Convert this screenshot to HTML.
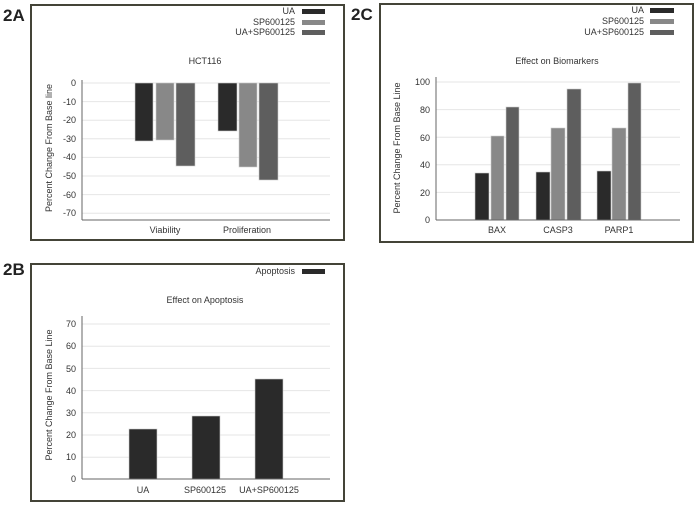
<!DOCTYPE html><html><head><meta charset="utf-8"><style>body{margin:0;background:#fff}svg{display:block}text{font-family:"Liberation Sans",sans-serif;fill:#333}</style></head><body>
<svg width="697" height="505" viewBox="0 0 697 505" xmlns="http://www.w3.org/2000/svg">
<g stroke="#444438" stroke-width="2" fill="none">
<rect x="31" y="5" width="313" height="235"/>
<rect x="380" y="4" width="313" height="238"/>
<rect x="31" y="264" width="313" height="237"/>
</g>
<g font-weight="bold" font-size="17" style="fill:#222"><text x="3" y="21" style="fill:#222">2A</text><text x="351" y="20" style="fill:#222">2C</text><text x="3" y="275" style="fill:#222">2B</text></g>
<!-- Panel A -->
<g stroke="#e6e6e6" stroke-width="1">
<line x1="82" x2="330" y1="83" y2="83"/><line x1="82" x2="330" y1="101.6" y2="101.6"/><line x1="82" x2="330" y1="120.2" y2="120.2"/><line x1="82" x2="330" y1="138.8" y2="138.8"/><line x1="82" x2="330" y1="157.4" y2="157.4"/><line x1="82" x2="330" y1="176" y2="176"/><line x1="82" x2="330" y1="194.6" y2="194.6"/><line x1="82" x2="330" y1="213.2" y2="213.2"/>
</g>
<g font-size="9" text-anchor="end"><text x="76" y="86">0</text><text x="76" y="105">-10</text><text x="76" y="123">-20</text><text x="76" y="142">-30</text><text x="76" y="160">-40</text><text x="76" y="179">-50</text><text x="76" y="198">-60</text><text x="76" y="216">-70</text></g>
<g stroke="#ccc" stroke-width="0.6">
<rect x="135" y="83" width="18" height="58" fill="#2a2a2a"/><rect x="156" y="83" width="18" height="57" fill="#888"/><rect x="176" y="83" width="19" height="83" fill="#5e5e5e"/>
<rect x="218" y="83" width="19" height="48" fill="#2a2a2a"/><rect x="239" y="83" width="18" height="84" fill="#888"/><rect x="259" y="83" width="19" height="97" fill="#5e5e5e"/>
</g>
<line x1="82" y1="80" x2="82" y2="220" stroke="#666"/><line x1="82" y1="220" x2="330" y2="220" stroke="#666"/>
<g font-size="9" text-anchor="middle"><text x="165" y="233">Viability</text><text x="247" y="233">Proliferation</text><text x="205" y="64">HCT116</text></g>
<text transform="translate(52,148) rotate(-90)" font-size="9" text-anchor="middle">Percent Change From Base line</text>
<g font-size="9" text-anchor="end"><text x="295" y="14">UA</text><text x="295" y="25">SP600125</text><text x="295" y="35">UA+SP600125</text></g>
<rect x="302" y="9" width="23" height="5" fill="#2a2a2a"/><rect x="302" y="20" width="23" height="5" fill="#888"/><rect x="302" y="30" width="23" height="5" fill="#5e5e5e"/>
<!-- Panel C -->
<g stroke="#e6e6e6" stroke-width="1">
<line x1="436" x2="680" y1="82" y2="82"/><line x1="436" x2="680" y1="109.6" y2="109.6"/><line x1="436" x2="680" y1="137.2" y2="137.2"/><line x1="436" x2="680" y1="164.8" y2="164.8"/><line x1="436" x2="680" y1="192.4" y2="192.4"/>
</g>
<g font-size="9" text-anchor="end"><text x="430" y="85">100</text><text x="430" y="113">80</text><text x="430" y="141">60</text><text x="430" y="168">40</text><text x="430" y="196">20</text><text x="430" y="223">0</text></g>
<g stroke="#ccc" stroke-width="0.6">
<rect x="475" y="173" width="14" height="47" fill="#2a2a2a"/><rect x="491" y="136" width="13" height="84" fill="#888"/><rect x="506" y="107" width="13" height="113" fill="#5e5e5e"/>
<rect x="536" y="172" width="14" height="48" fill="#2a2a2a"/><rect x="551" y="128" width="14" height="92" fill="#888"/><rect x="567" y="89" width="14" height="131" fill="#5e5e5e"/>
<rect x="597" y="171" width="14" height="49" fill="#2a2a2a"/><rect x="612" y="128" width="14" height="92" fill="#888"/><rect x="628" y="83" width="13" height="137" fill="#5e5e5e"/>
</g>
<line x1="436" y1="77" x2="436" y2="220" stroke="#666"/><line x1="436" y1="220" x2="680" y2="220" stroke="#666"/>
<g font-size="9" text-anchor="middle"><text x="497" y="233">BAX</text><text x="558" y="233">CASP3</text><text x="619" y="233">PARP1</text><text x="557" y="64">Effect on Biomarkers</text></g>
<text transform="translate(400,148) rotate(-90)" font-size="9" text-anchor="middle">Percent Change From Base Line</text>
<g font-size="9" text-anchor="end"><text x="644" y="13">UA</text><text x="644" y="24">SP600125</text><text x="644" y="35">UA+SP600125</text></g>
<rect x="650" y="8" width="24" height="5" fill="#2a2a2a"/><rect x="650" y="19" width="24" height="5" fill="#888"/><rect x="650" y="30" width="24" height="5" fill="#5e5e5e"/>
<!-- Panel B -->
<g stroke="#e6e6e6" stroke-width="1">
<line x1="82" x2="330" y1="324" y2="324"/><line x1="82" x2="330" y1="346.2" y2="346.2"/><line x1="82" x2="330" y1="368.4" y2="368.4"/><line x1="82" x2="330" y1="390.6" y2="390.6"/><line x1="82" x2="330" y1="412.8" y2="412.8"/><line x1="82" x2="330" y1="435" y2="435"/><line x1="82" x2="330" y1="457.2" y2="457.2"/>
</g>
<g font-size="9" text-anchor="end"><text x="76" y="327">70</text><text x="76" y="349">60</text><text x="76" y="372">50</text><text x="76" y="394">40</text><text x="76" y="416">30</text><text x="76" y="438">20</text><text x="76" y="460">10</text><text x="76" y="482">0</text></g>
<g stroke="#ccc" stroke-width="0.6">
<rect x="129" y="429" width="28" height="50" fill="#2a2a2a"/><rect x="192" y="416" width="28" height="63" fill="#2a2a2a"/><rect x="255" y="379" width="28" height="100" fill="#2a2a2a"/>
</g>
<line x1="82" y1="316" x2="82" y2="479" stroke="#666"/><line x1="82" y1="479" x2="330" y2="479" stroke="#666"/>
<g font-size="9" text-anchor="middle"><text x="143" y="493">UA</text><text x="205" y="493">SP600125</text><text x="269" y="493">UA+SP600125</text><text x="205" y="303">Effect on Apoptosis</text></g>
<text transform="translate(52,395) rotate(-90)" font-size="9" text-anchor="middle">Percent Change From Base Line</text>
<text x="295" y="274" font-size="9" text-anchor="end">Apoptosis</text>
<rect x="302" y="269" width="23" height="5" fill="#2a2a2a"/>
</svg></body></html>
